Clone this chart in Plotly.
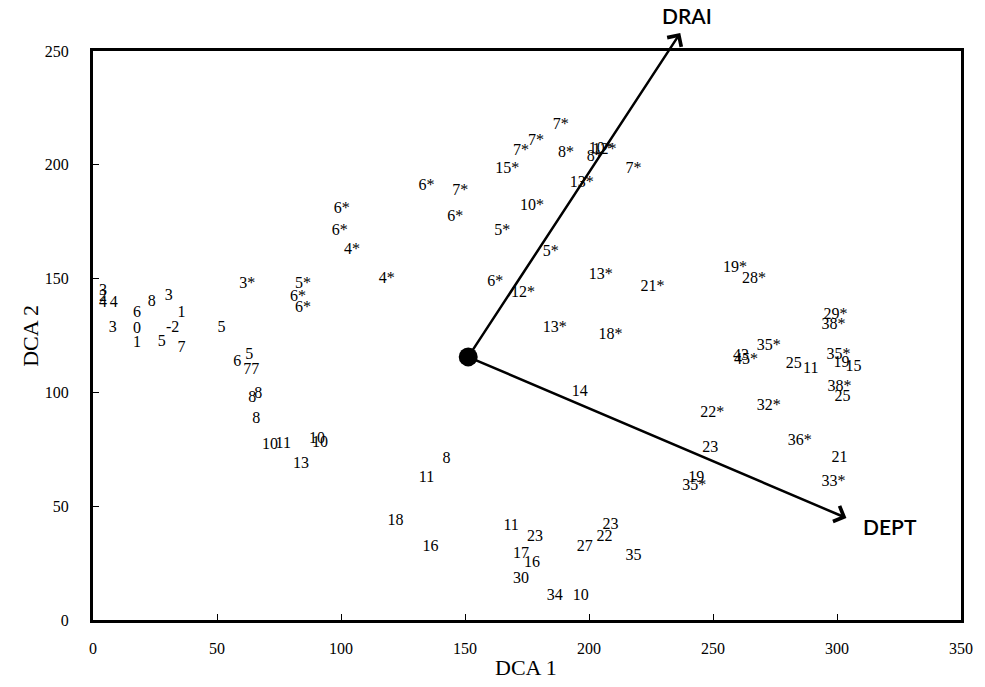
import plotly.graph_objects as go

# ---- data: site labels and their DCA scores ----
labels = [
    "3", "2", "4", "4", "6", "8", "3", "1", "3", "0", "-2", "5", "1", "5", "7",
    "6", "5", "7", "7", "8", "8", "8", "10", "11", "10", "10", "13",
    "3*", "5*", "6*", "6*", "6*", "6*", "4*", "4*",
    "6*", "7*", "6*", "15*", "7*", "7*", "7*", "8*", "10*", "12*", "8*", "13*", "7*",
    "10*", "5*", "5*", "6*", "12*", "13*", "21*", "13*", "18*",
    "19*", "28*", "29*", "38*", "35*", "43", "45*", "25", "11", "35*", "19", "15",
    "38*", "25", "32*", "22*", "36*", "23", "21", "19", "35*", "33*", "14",
    "8", "11", "18", "16", "11", "23", "17", "16", "30", "34", "10", "27", "22", "23", "35",
]
dca1 = [
    4.0, 4.0, 4.0, 8.4, 17.7, 23.7, 30.5, 35.7, 8.0, 17.7, 32.1, 51.8, 17.7, 27.7, 35.7,
    58.2, 63.0, 62.2, 65.4, 64.2, 66.6, 65.8, 71.4, 76.7, 90.3, 91.5, 83.9,
    62.2, 84.7, 82.7, 84.7, 100.3, 99.5, 104.4, 118.4,
    134.5, 148.1, 146.1, 167.0, 172.6, 178.6, 188.6, 190.7, 204.7, 206.3, 202.3, 197.1, 217.9,
    177.0, 165.0, 184.6, 162.2, 173.4, 204.7, 225.6, 186.2, 208.7,
    258.9, 266.5, 299.4, 298.6, 272.5, 261.3, 263.3, 282.6, 289.4, 300.6, 301.8, 306.7,
    301.0, 302.2, 272.5, 249.7, 285.0, 248.9, 301.0, 243.2, 242.4, 298.6, 196.3,
    142.5, 134.5, 122.0, 136.1, 168.6, 178.2, 172.6, 177.0, 172.6, 186.2, 196.7, 198.3, 206.3, 208.7, 217.9,
]
dca2 = [
    144.6, 141.9, 139.3, 139.3, 134.9, 139.7, 142.4, 134.9, 128.3, 127.9, 128.3, 128.3, 121.7, 122.1, 119.5,
    113.4, 116.4, 109.8, 109.8, 97.5, 99.3, 88.3, 76.9, 77.3, 79.5, 77.8, 68.5,
    147.6, 147.6, 141.9, 137.1, 180.6, 170.9, 162.6, 149.8,
    190.7, 188.5, 177.1, 198.2, 206.1, 210.5, 217.5, 205.2, 206.9, 206.5, 203.4, 192.0, 198.2,
    181.9, 170.9, 161.7, 148.5, 143.7, 151.6, 146.3, 128.3, 125.2,
    154.7, 149.8, 134.0, 129.6, 120.4, 116.0, 114.2, 112.5, 110.3, 116.4, 112.9, 111.2,
    102.4, 98.0, 94.0, 90.9, 78.6, 75.6, 71.2, 62.4, 58.9, 60.6, 100.2,
    70.7, 62.4, 43.5, 32.1, 41.3, 36.5, 29.0, 25.0, 18.0, 10.5, 10.5, 32.1, 36.5, 41.7, 28.1,
]

# environmental vectors (biplot arrows) from a common origin
origin = [151.3, 115.6]
vector_names = ["DRAI", "DEPT"]
vector_dca1 = [236.8, 303.8]
vector_dca2 = [257.9, 44.8]
vector_label_dca1 = [239.6, 321.5]
vector_label_dca2 = [265.8, 40.9]

x_ticks = [0, 50, 100, 150, 200, 250, 300, 350]
y_ticks = [0, 50, 100, 150, 200, 250]
x_range = [0, 350]
y_range = [0, 250]

serif = "Liberation Serif, Times New Roman, serif"

fig = go.Figure()
fig.add_trace(go.Scatter(
    x=dca1, y=dca2, text=labels, mode="text",
    textfont=dict(family=serif, size=16, color="black"),
    textposition="middle center", showlegend=False, hoverinfo="skip",
))
fig.add_trace(go.Scatter(
    x=[origin[0]], y=[origin[1]], mode="markers",
    marker=dict(size=19, color="black"), showlegend=False, hoverinfo="skip",
))


def to_paper(v, rng):
    return (v - rng[0]) / (rng[1] - rng[0])


annotations = []
for name, vx, vy, lx, ly in zip(vector_names, vector_dca1, vector_dca2,
                                vector_label_dca1, vector_label_dca2):
    annotations.append(dict(
        x=vx, y=vy, ax=origin[0], ay=origin[1], xref="x", yref="y",
        axref="x", ayref="y", showarrow=True, arrowhead=4, arrowsize=1.3,
        arrowwidth=2.5, arrowcolor="black", text="", standoff=0, startstandoff=0,
    ))
    annotations.append(dict(
        x=to_paper(lx, x_range), y=to_paper(ly, y_range), xref="paper", yref="paper",
        text=name, showarrow=False, xanchor="center", yanchor="middle",
        font=dict(family="Lato, Open Sans, sans-serif", size=21, color="black", weight=600),
    ))

annotations.append(dict(
    x=0.499, y=-0.084, xref="paper", yref="paper", text="DCA 1", showarrow=False,
    font=dict(family=serif, size=22, color="black"), xanchor="center", yanchor="middle",
))
annotations.append(dict(
    x=-0.0722, y=0.5, xref="paper", yref="paper", text="DCA 2", showarrow=False,
    textangle=-90, font=dict(family=serif, size=22, color="black"),
    xanchor="center", yanchor="middle",
))

axis_common = dict(
    showgrid=False, zeroline=False, showline=True, linecolor="black", linewidth=3,
    mirror=True, ticks="inside", ticklen=6, tickwidth=1, tickcolor="black",
    tickfont=dict(family=serif, size=16, color="black"),
)

fig.update_layout(
    width=985, height=687,
    margin=dict(l=93, r=20, t=51, b=67),
    paper_bgcolor="white", plot_bgcolor="white",
    xaxis=dict(range=x_range, tickvals=x_ticks, ticklabelstandoff=12, **axis_common),
    yaxis=dict(range=y_range, tickvals=y_ticks, ticklabelstandoff=18, **axis_common),
    annotations=annotations,
)

fig.write_html(
    "out.html",
    config={"displayModeBar": False},
    post_script="document.body.style.margin='0';document.body.style.overflow='hidden';",
)
